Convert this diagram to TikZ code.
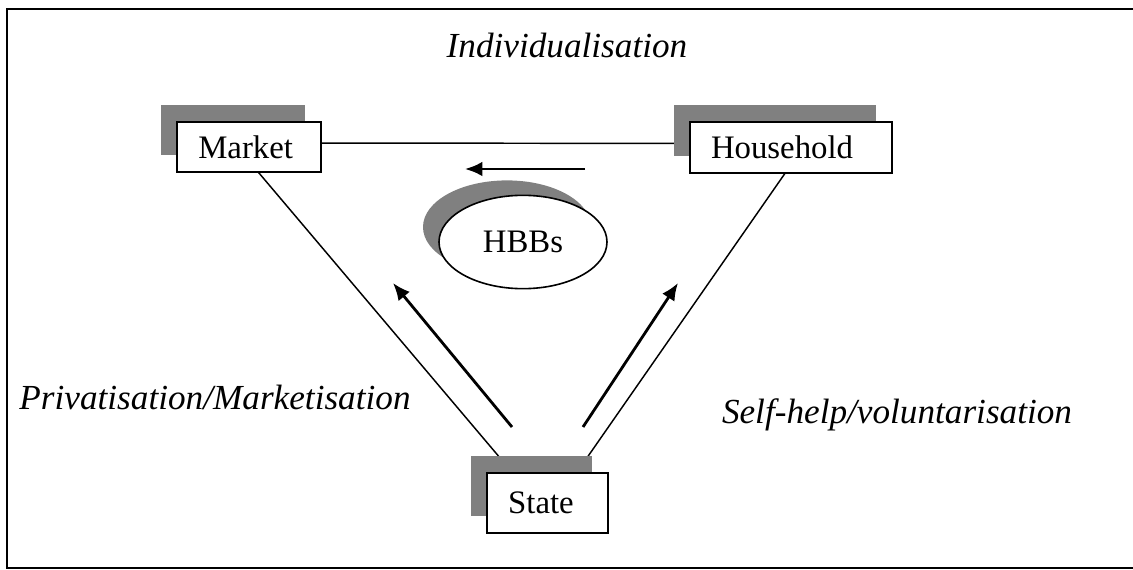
\documentclass[tikz,border=0pt,12pt]{standalone}
\usepackage{fontspec}
\setmainfont{Liberation Serif}
\usetikzlibrary{shapes.geometric,shadows,backgrounds,arrows.meta}
\definecolor{shadowgray}{RGB}{128,128,128}

\begin{document}
\begin{tikzpicture}[x=0.375pt,y=-0.375pt]
%\draw[help lines,step=40] (0,0) grid (1133,570);
\tikzstyle{sh}=[general shadow={shadow xshift=-6pt,shadow yshift=6.3pt,fill=shadowgray}]
\tikzstyle{box}=[rectangle,draw,line width=0.75pt,fill=white,inner xsep=8pt,inner ysep=0pt,align=left,font=\fontsize{12.3pt}{14.5pt}\selectfont,sh]
\tikzstyle{lab}=[font=\fontsize{13.2pt}{16pt}\selectfont\itshape]
\tikzstyle{arr}=[-{Latex[length=6.5pt,width=5.5pt]},line width=1.05pt]

\useasboundingbox (0,0) rectangle (1133,570);
\draw[line width=1.1pt] (7,9) rectangle (1145,568);

\node[box,text width=38pt,minimum height=18.75pt] (market) at (249,147) {Market};

\node[box,text width=60pt,minimum height=19pt] (household) at (791,147.5) {Household};

\node[box,text width=29.5pt,minimum height=22.5pt] (state) at (547.5,503) {State};

\node[ellipse,draw,line width=0.6pt,fill=white,minimum width=63pt,minimum height=35pt,inner sep=0pt,font=\fontsize{12.3pt}{14.5pt}\selectfont,
  general shadow={shadow xshift=-6pt,shadow yshift=5.6pt,fill=shadowgray}] (hbbs) at (523,242) {HBBs};

\node[lab] (indiv) at (567,45) {Individualisation};
\node[lab] (priv) at (215,397) {Privatisation/Marketisation};
\node[lab] (self) at (897,415) {Self-help/voluntarisation};

\begin{scope}[on background layer]
\path ([yshift=1.5pt]market.center) edge[line width=0.55pt] ([yshift=1.5pt]household.center);
\path ([xshift=-4.5pt]market.center) edge[line width=0.55pt] ([xshift=-3.5pt]state.center);
\path ([xshift=3pt]state.center) edge[line width=0.55pt] ([xshift=4.5pt]household.center);
\end{scope}

\coordinate (t1) at (585,169); \coordinate (t2) at (465,169);
\coordinate (l1) at (512,427); \coordinate (l2) at (393,283);
\coordinate (r1) at (583,427); \coordinate (r2) at (678,283);
\draw[arr] (t1) -- (t2);
\draw[arr] (l1) -- (l2);
\draw[arr] (r1) -- (r2);
\end{tikzpicture}
\end{document}
